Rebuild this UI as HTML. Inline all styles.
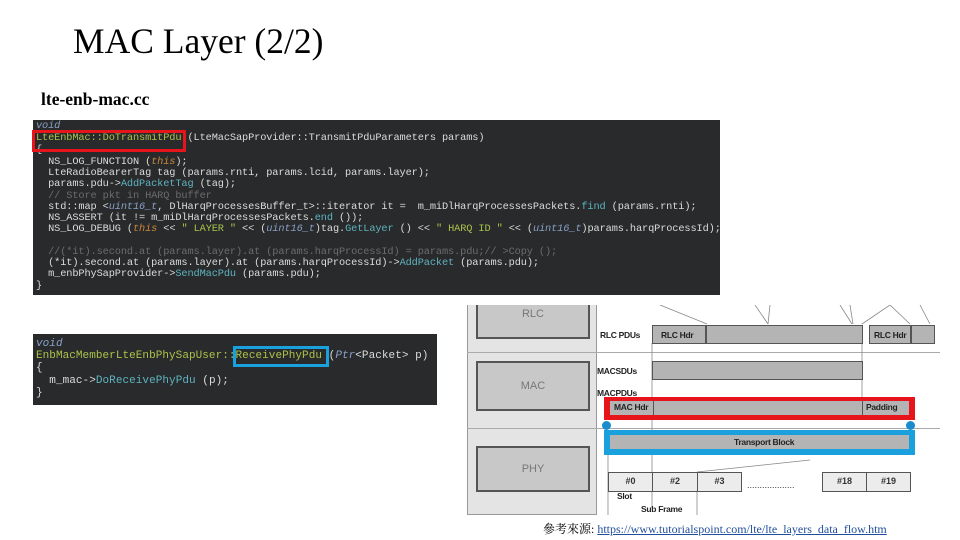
<!DOCTYPE html>
<html><head><meta charset="utf-8"><style>
body{margin:0;width:960px;height:540px;background:#fff;position:relative;overflow:hidden;font-family:"Liberation Sans",sans-serif}
.a{position:absolute}
.code{position:absolute;background:#282a2b;font-family:"Liberation Mono",monospace;color:#dcdcdc;white-space:pre;overflow:hidden}
.code div{position:absolute;left:3px}
.k{color:#c8883a;font-style:italic}
.g{color:#a9c44b}
.c{color:#6c6c6c}
.m{color:#5fb3c0}
.v{color:#8aa0c8;font-style:italic}
.lbl{position:absolute;font-family:"Liberation Sans",sans-serif;font-weight:bold;font-size:8.5px;color:#222;letter-spacing:-0.3px}
.bar{position:absolute;background:#b4b4b4;border:1.5px solid #555;box-sizing:border-box}
.cell{position:absolute;background:#ececec;border:1.5px solid #555;box-sizing:border-box;font:bold 9px "Liberation Sans",sans-serif;text-align:center;line-height:17px;color:#333}
.lay{position:absolute;background:#c8c8c8;border:2px solid #555;box-sizing:border-box;color:#777;font-size:11px;text-align:center}
</style></head><body>
<div class="a" style="left:73px;top:20px;font:35.5px 'Liberation Serif',serif;color:#000">MAC Layer (2/2)</div>
<div class="a" style="left:41px;top:89px;font:bold 17.5px 'Liberation Serif',serif;color:#000">lte-enb-mac.cc</div>

<div class="code" style="left:33px;top:120px;width:687px;height:175px;font-size:10.3px;letter-spacing:-0.12px;line-height:11px">
<div style="top:1px" class="v">void</div>
<div style="top:13px"><span class="g">LteEnbMac::DoTransmitPdu</span> (LteMacSapProvider::TransmitPduParameters params)</div>
<div style="top:25px">{</div>
<div style="top:37px">  NS_LOG_FUNCTION (<span class="k">this</span>);</div>
<div style="top:48px">  LteRadioBearerTag tag (params.rnti, params.lcid, params.layer);</div>
<div style="top:59px">  params.pdu-&gt;<span class="m">AddPacketTag</span> (tag);</div>
<div style="top:71px" class="c">  // Store pkt in HARQ buffer</div>
<div style="top:82px">  std::map &lt;<span class="v">uint16_t</span>, DlHarqProcessesBuffer_t&gt;::iterator it =  m_miDlHarqProcessesPackets.<span class="m">find</span> (params.rnti);</div>
<div style="top:93px">  NS_ASSERT (it != m_miDlHarqProcessesPackets.<span class="m">end</span> ());</div>
<div style="top:104px">  NS_LOG_DEBUG (<span class="k">this</span> &lt;&lt; <span class="g">" LAYER "</span> &lt;&lt; (<span class="v">uint16_t</span>)tag.<span class="m">GetLayer</span> () &lt;&lt; <span class="g">" HARQ ID "</span> &lt;&lt; (<span class="v">uint16_t</span>)params.harqProcessId);</div>
<div style="top:127px" class="c">  //(*it).second.at (params.layer).at (params.harqProcessId) = params.pdu;// >Copy ();</div>
<div style="top:138px">  (*it).second.at (params.layer).at (params.harqProcessId)-&gt;<span class="m">AddPacket</span> (params.pdu);</div>
<div style="top:149px">  m_enbPhySapProvider-&gt;<span class="m">SendMacPdu</span> (params.pdu);</div>
<div style="top:161px">}</div>
</div>
<div class="a" style="left:32px;top:130px;width:148px;height:16px;border:3px solid #e8141c"></div>

<div class="code" style="left:33px;top:334px;width:404px;height:71px;font-size:11px;letter-spacing:0.05px;line-height:12px">
<div style="top:4px" class="v">void</div>
<div style="top:16px" class="g">EnbMacMemberLteEnbPhySapUser::ReceivePhyPdu <span style="color:#dcdcdc">(</span><span class="v">Ptr</span><span style="color:#dcdcdc">&lt;Packet&gt; p)</span></div>
<div style="top:28px">{</div>
<div style="top:41px">  m_mac-&gt;<span class="m">DoReceivePhyPdu</span> (p);</div>
<div style="top:53px">}</div>
</div>
<div class="a" style="left:233px;top:346px;width:90px;height:15px;border:3px solid #1aa0dc"></div>

<!-- diagram -->
<div class="a" style="left:467px;top:305px;width:130px;height:210px;background:#e4e4e4;border:1px solid #999;border-top:none;box-sizing:border-box"></div>
<div class="lay" style="left:476px;top:305px;width:114px;height:34px;line-height:18px;border-top:none">RLC</div>
<div class="lay" style="left:476px;top:361px;width:114px;height:50px;line-height:46px">MAC</div>
<div class="lay" style="left:476px;top:446px;width:114px;height:46px;line-height:42px">PHY</div>
<div class="a" style="left:467px;top:352px;width:473px;height:1px;background:#aaa"></div>
<div class="a" style="left:467px;top:428px;width:473px;height:1px;background:#aaa"></div>
<svg class="a" style="left:460px;top:305px" width="490" height="215">
<g stroke="#888" stroke-width="0.8" fill="none">
<line x1="200" y1="0" x2="247" y2="19"/><line x1="295" y1="0" x2="308" y2="19"/><line x1="310" y1="0" x2="308" y2="19"/>
<line x1="380" y1="0" x2="392" y2="19"/><line x1="390" y1="0" x2="393" y2="19"/><line x1="430" y1="0" x2="402" y2="19"/><line x1="430" y1="0" x2="450" y2="19"/><line x1="460" y1="0" x2="470" y2="19"/>
<line x1="192" y1="38" x2="192" y2="203"/><line x1="402" y1="38" x2="402" y2="95"/><line x1="148" y1="150" x2="148" y2="210"/><line x1="237" y1="167" x2="237" y2="210"/>
<line x1="237" y1="167" x2="350" y2="155"/>
</g></svg>
<div class="lbl" style="left:600px;top:330px">RLC PDUs</div>
<div class="bar" style="left:652px;top:325px;width:211px;height:19px"></div>
<div class="a" style="left:705px;top:325px;width:1.5px;height:19px;background:#555"></div>
<div class="lbl" style="left:661px;top:330px">RLC Hdr</div>
<div class="bar" style="left:869px;top:325px;width:66px;height:19px"></div>
<div class="a" style="left:910px;top:325px;width:1.5px;height:19px;background:#555"></div>
<div class="lbl" style="left:874px;top:330px">RLC Hdr</div>
<div class="lbl" style="left:597px;top:366px">MACSDUs</div>
<div class="bar" style="left:652px;top:361px;width:211px;height:19px"></div>
<div class="lbl" style="left:597px;top:388px">MACPDUs</div>
<div class="a" style="left:604px;top:397px;width:311px;height:23px;background:#e8141c"></div>
<div class="a" style="left:610px;top:401px;width:299px;height:14px;background:#b4b4b4"></div>
<div class="a" style="left:653px;top:401px;width:1px;height:14px;background:#555"></div>
<div class="a" style="left:862px;top:401px;width:1px;height:14px;background:#555"></div>
<div class="lbl" style="left:614px;top:402px">MAC Hdr</div>
<div class="lbl" style="left:866px;top:402px">Padding</div>
<div class="a" style="left:604px;top:430px;width:311px;height:25px;background:#1aa0dc"></div>
<div class="a" style="left:610px;top:435px;width:299px;height:14px;background:#b4b4b4"></div>
<div class="lbl" style="left:734px;top:437px">Transport Block</div>
<div class="a" style="left:602px;top:421px;width:9px;height:9px;border-radius:50%;background:#1a8ccc"></div>
<div class="a" style="left:906px;top:421px;width:9px;height:9px;border-radius:50%;background:#1a8ccc"></div>
<div class="cell" style="left:608px;top:472px;width:45px;height:20px">#0</div>
<div class="cell" style="left:652px;top:472px;width:46px;height:20px">#2</div>
<div class="cell" style="left:697px;top:472px;width:45px;height:20px">#3</div>
<div class="a" style="left:747px;top:480px;font-size:9px;color:#333">...................</div>
<div class="cell" style="left:822px;top:472px;width:45px;height:20px">#18</div>
<div class="cell" style="left:866px;top:472px;width:45px;height:20px">#19</div>
<div class="lbl" style="left:617px;top:491px">Slot</div>
<div class="lbl" style="left:641px;top:504px">Sub Frame</div>

<div class="a" style="left:543px;top:520px;font:12px 'Liberation Serif','Noto Serif CJK TC',serif;color:#000">參考來源: <span style="color:#1f4e9c;text-decoration:underline">https://www.tutorialspoint.com/lte/lte_layers_data_flow.htm</span></div>
</body></html>
